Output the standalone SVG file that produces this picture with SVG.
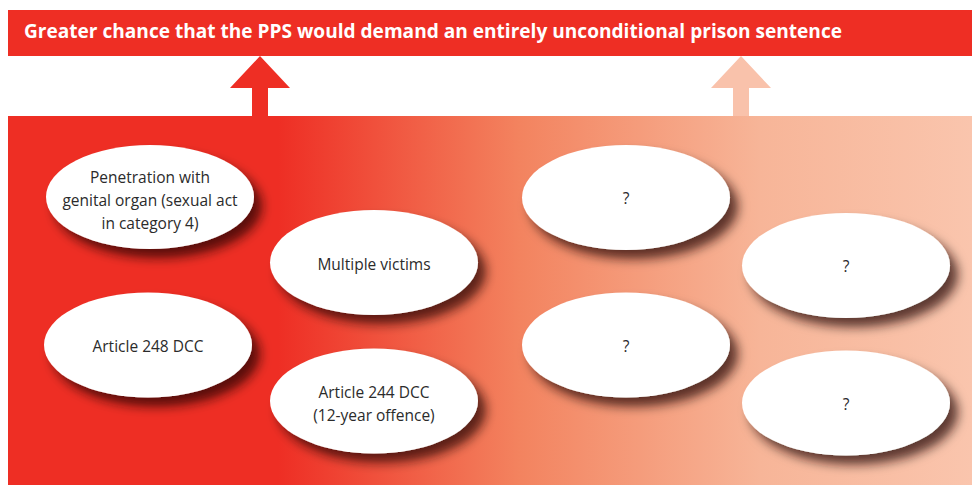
<svg xmlns="http://www.w3.org/2000/svg" width="972" height="485" viewBox="0 0 972 485">
  <style>
    .title { font-family: "Open Sans", "Liberation Sans", sans-serif; font-weight: bold; font-size: 20px; fill: #ffffff; }
    .node ellipse { fill: #ffffff; filter: url(#shadow); }
    .node text { font-family: "Open Sans", "Liberation Sans", sans-serif; font-size: 15.5px; fill: #2b2b2b; text-anchor: middle; }
  </style>
  <defs>
    <linearGradient id="panelFill" x1="8" y1="0" x2="972" y2="0" gradientUnits="userSpaceOnUse">
      <stop offset="0" stop-color="#EE2E24"/>
      <stop offset="0.28" stop-color="#EE2E24"/>
      <stop offset="0.53" stop-color="#F3835F"/>
      <stop offset="0.78" stop-color="#F7B598"/>
      <stop offset="1" stop-color="#FAC5AD"/>
    </linearGradient>
    <filter id="shadow" x="-20%" y="-30%" width="150%" height="170%">
      <feDropShadow dx="8" dy="9" stdDeviation="5.5" flood-color="#1a0500" flood-opacity="0.7"/>
    </filter>
  </defs>

  <!-- outcome banner -->
  <g id="banner">
    <rect x="8" y="10" width="964" height="46" fill="#EE2E24"/>
    <text class="title" x="24" y="38" textLength="818" lengthAdjust="spacingAndGlyphs">Greater chance that the PPS would demand an entirely unconditional prison sentence</text>
  </g>

  <!-- factor panel -->
  <rect id="panel" x="8" y="116" width="964" height="369" fill="url(#panelFill)"/>

  <!-- upward arrows -->
  <g id="connectors">
    <polygon points="260,56 290,88 268,88 268,116 252,116 252,88 230,88" fill="#EE2E24"/>
    <polygon points="741,56 771,88 749,88 749,116 733,116 733,88 711,88" fill="#F9C2AB"/>
  </g>

  <!-- factors -->
  <g id="penetration" class="node">
    <ellipse cx="150" cy="197" rx="104" ry="52"/>
    <text x="150" y="183">Penetration with</text>
    <text x="150" y="206">genital organ (sexual act</text>
    <text x="150" y="229">in category 4)</text>
  </g>
  <g id="multiple-victims" class="node">
    <ellipse cx="374" cy="262.5" rx="104" ry="52.5"/>
    <text x="374" y="270">Multiple victims</text>
  </g>
  <g id="article-248" class="node">
    <ellipse cx="148" cy="345" rx="104" ry="52.5"/>
    <text x="148" y="352">Article 248 DCC</text>
  </g>
  <g id="article-244" class="node">
    <ellipse cx="374" cy="401" rx="104" ry="52.5"/>
    <text x="374" y="398">Article 244 DCC</text>
    <text x="374" y="421">(12-year offence)</text>
  </g>
  <g id="unknown-1" class="node">
    <ellipse cx="626" cy="197.5" rx="104" ry="52.5"/>
    <text x="626" y="204">?</text>
  </g>
  <g id="unknown-2" class="node">
    <ellipse cx="626" cy="345" rx="104" ry="52.5"/>
    <text x="626" y="352">?</text>
  </g>
  <g id="unknown-3" class="node">
    <ellipse cx="846" cy="265.5" rx="104" ry="52.5"/>
    <text x="846" y="272">?</text>
  </g>
  <g id="unknown-4" class="node">
    <ellipse cx="846" cy="403" rx="104" ry="52.5"/>
    <text x="846" y="410">?</text>
  </g>
</svg>
